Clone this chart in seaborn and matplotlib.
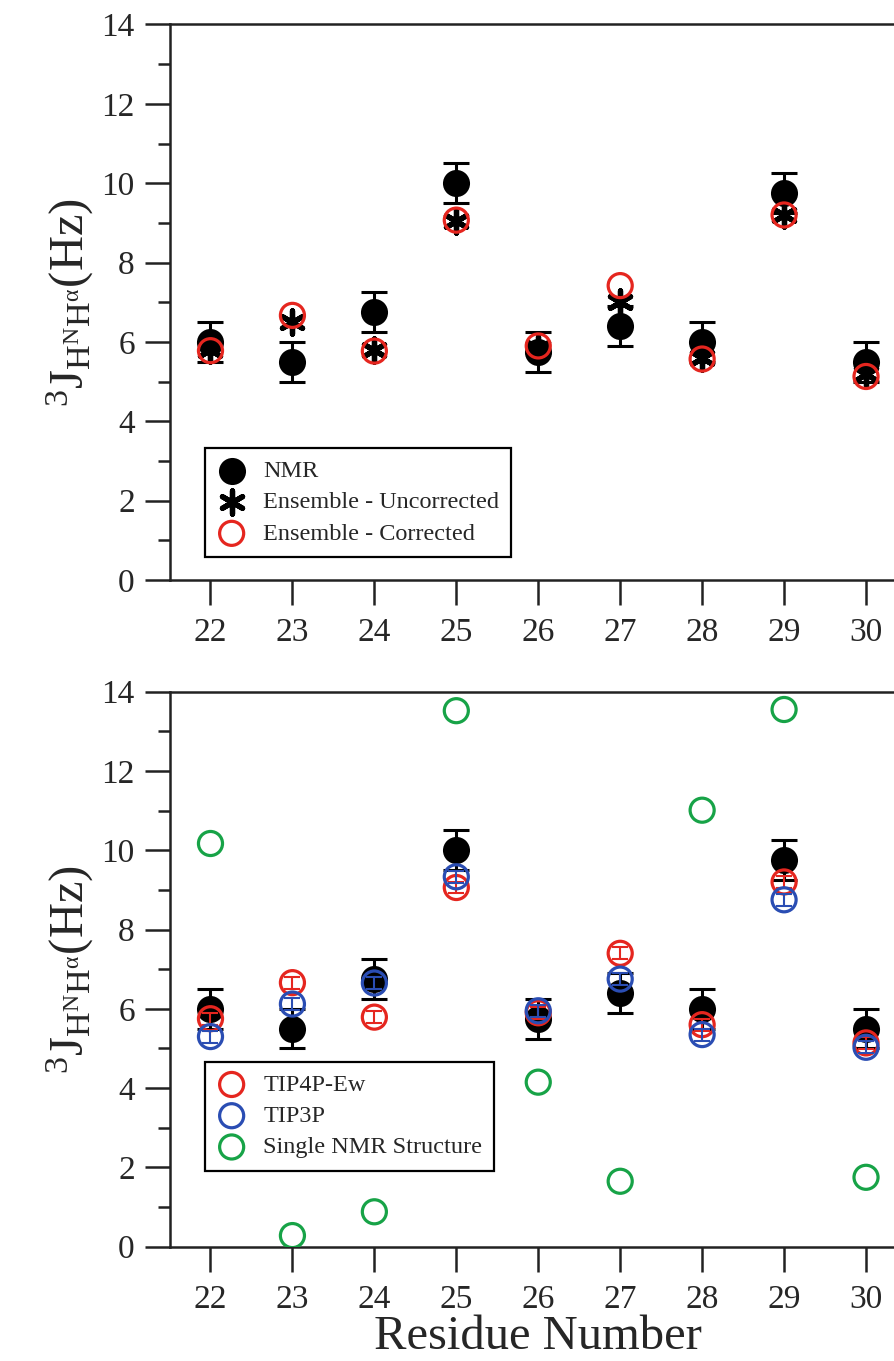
import numpy as np
import seaborn as sns
import matplotlib
matplotlib.use('Agg')
import matplotlib.pyplot as plt

residues = [22, 23, 24, 25, 26, 27, 28, 29, 30]
nmr = [6.0, 5.5, 6.75, 10.0, 5.75, 6.4, 6.0, 9.75, 5.5]
nmr_err = [0.5, 0.5, 0.5, 0.5, 0.5, 0.5, 0.5, 0.5, 0.5]
ens_uncorrected = [5.8, 6.5, 5.8, 9.05, 5.85, 7.0, 5.6, 9.2, 5.2]
ens_corrected = [5.78, 6.67, 5.77, 9.07, 5.9, 7.42, 5.57, 9.2, 5.13]
tip4p_ew = [5.75, 6.66, 5.79, 9.06, 5.9, 7.4, 5.6, 9.2, 5.14]
tip4p_err = [0.15, 0.15, 0.15, 0.15, 0.15, 0.15, 0.15, 0.15, 0.15]
tip3p = [5.3, 6.12, 6.65, 9.33, 5.95, 6.75, 5.35, 8.75, 5.03]
tip3p_err = [0.15, 0.15, 0.15, 0.15, 0.15, 0.15, 0.15, 0.15, 0.15]
single_nmr = [10.17, 0.28, 0.88, 13.52, 4.15, 1.65, 11.01, 13.55, 1.75]

sns.set_style('ticks')
plt.rcParams['font.family'] = ['Liberation Serif', 'DejaVu Serif']
plt.rcParams['mathtext.fontset'] = 'custom'
plt.rcParams['mathtext.rm'] = 'Liberation Serif'
plt.rcParams['mathtext.it'] = 'Liberation Serif'
plt.rcParams['mathtext.bf'] = 'Liberation Serif:bold'

red = '#e5261f'
blue = '#2a4db3'
green = '#17a347'
spine_col = '#222222'

fig = plt.figure(figsize=(8.95, 13.61), dpi=100)
ax1 = fig.add_axes([0.1894, 0.5738, 0.824, 0.4082])
ax2 = fig.add_axes([0.1894, 0.0840, 0.824, 0.4078])

ylab = r'$^{3}\mathrm{J}_{\mathrm{H}^{\mathrm{N}}\mathrm{H}^{\alpha}}$(Hz)'

for ax in (ax1, ax2):
    ax.errorbar(residues, nmr, yerr=nmr_err, fmt='none', ecolor='black',
                elinewidth=2.2, capsize=9.5, capthick=2.2, zorder=2)
    sns.scatterplot(x=residues, y=nmr, ax=ax, color='black', s=380,
                    edgecolor='black', linewidth=0, label='NMR', zorder=3)

# top panel
sns.scatterplot(x=residues, y=ens_uncorrected, ax=ax1, marker=(6, 2, 0),
                color='black', s=280, linewidth=3.8, edgecolor='black',
                label='Ensemble - Uncorrected', zorder=4)
sns.scatterplot(x=residues, y=ens_corrected, ax=ax1, marker='o',
                facecolor='none', edgecolor=red, s=300, linewidth=2.3,
                label='Ensemble - Corrected', zorder=5)

# bottom panel
ax2.errorbar(residues, tip4p_ew, yerr=tip4p_err, fmt='none', ecolor=red,
             elinewidth=1.5, capsize=6, capthick=1.5, zorder=4)
sns.scatterplot(x=residues, y=tip4p_ew, ax=ax2, marker='o', facecolor='none',
                edgecolor=red, s=300, linewidth=2.3, label='TIP4P-Ew', zorder=4)
ax2.errorbar(residues, tip3p, yerr=tip3p_err, fmt='none', ecolor=blue,
             elinewidth=1.5, capsize=6, capthick=1.5, zorder=5)
sns.scatterplot(x=residues, y=tip3p, ax=ax2, marker='o', facecolor='none',
                edgecolor=blue, s=300, linewidth=2.3, label='TIP3P', zorder=5)
sns.scatterplot(x=residues, y=single_nmr, ax=ax2, marker='o', facecolor='none',
                edgecolor=green, s=300, linewidth=2.3,
                label='Single NMR Structure', zorder=6)

for ax in (ax1, ax2):
    ax.set_xlim(21.5, 30.5)
    ax.set_ylim(0, 14)
    ax.set_xticks(residues)
    ax.set_yticks(np.arange(0, 15, 2))
    ax.set_yticks(np.arange(1, 14, 2), minor=True)
    ax.tick_params(axis='both', which='major', direction='out', length=18,
                   width=1.8, labelsize=24, pad=7, color=spine_col)
    ax.tick_params(axis='y', which='minor', direction='out', length=9,
                   width=1.8, color=spine_col)
    ax.tick_params(axis='x', pad=9)
    for s in ('top', 'left', 'bottom', 'right'):
        ax.spines[s].set_linewidth(1.8)
        ax.spines[s].set_color(spine_col)
    ax.set_ylabel(ylab, fontsize=35, labelpad=4)
    ax.set_xlabel('')

ax2.set_xlabel('Residue Number', fontsize=35, labelpad=0)

leg_kw = dict(loc='upper left', fontsize=17.5, frameon=True, fancybox=False,
              edgecolor='black', borderaxespad=0, handletextpad=0.7,
              labelspacing=0.38, borderpad=0.5, handlelength=1.2)

h, l = ax1.get_legend_handles_labels()
lg1 = ax1.legend(h, l, bbox_to_anchor=(0.048, 0.2376), **leg_kw)
lg1.get_frame().set_linewidth(1.6)
lg1.get_frame().set_alpha(1)

h, l = ax2.get_legend_handles_labels()
keep = [i for i, t in enumerate(l) if t != 'NMR']
lg2 = ax2.legend([h[i] for i in keep], [l[i] for i in keep],
                 bbox_to_anchor=(0.048, 0.3333), **leg_kw)
lg2.get_frame().set_linewidth(1.6)
lg2.get_frame().set_alpha(1)

fig.savefig('out.png', dpi=100)
